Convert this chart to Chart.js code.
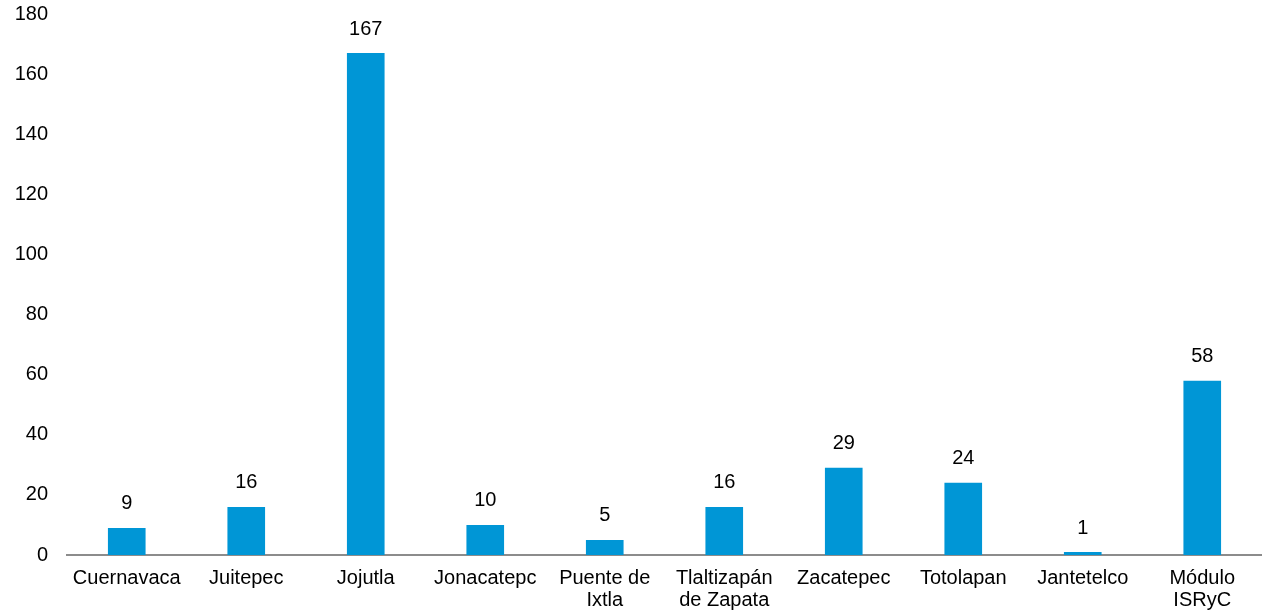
<!DOCTYPE html>
<html lang="es">
<head>
  <meta charset="UTF-8" />
  <title>Casos por municipio</title>
  <style>
    body {
      margin: 0;
      background: #ffffff;
    }
    #chartBox {
      width: 1262px;
      height: 613px;
    }
  </style>
</head>
<body>

<div id="chartBox">
  <canvas id="barChart" width="1262" height="613"></canvas>
</div>

<script src="https://cdn.jsdelivr.net/npm/chart.js"></script>
<script>
  // Data
  const categories = [
    'Cuernavaca', 'Juitepec', 'Jojutla', 'Jonacatepc', ['Puente de', 'Ixtla'],
    ['Tlaltizapán', 'de Zapata'], 'Zacatepec', 'Totolapan', 'Jantetelco', ['Módulo', 'ISRyC']
  ];
  const values = [9, 16, 167, 10, 5, 16, 29, 24, 1, 58];
  const yTicks = [0, 20, 40, 60, 80, 100, 120, 140, 160, 180];

  const fontFamily = 'Helvetica, "Liberation Sans", Arial, sans-serif';

  // Draws each value above its bar
  const valueLabels = {
    id: 'valueLabels',
    afterDatasetsDraw(chart) {
      const ctx = chart.ctx;
      const meta = chart.getDatasetMeta(0);
      ctx.save();
      ctx.font = '20px ' + fontFamily;
      ctx.fillStyle = '#000';
      ctx.textAlign = 'center';
      ctx.textBaseline = 'bottom';
      meta.data.forEach((bar, i) => {
        ctx.fillText(values[i], bar.x, bar.y - 14);
      });
      ctx.restore();
    }
  };

  const ctx = document.getElementById('barChart').getContext('2d');
  new Chart(ctx, {
    type: 'bar',
    data: {
      labels: categories,
      datasets: [{
        data: values,
        backgroundColor: '#0096d6',
        borderWidth: 0,
        barPercentage: 0.63,
        categoryPercentage: 0.5
      }]
    },
    options: {
      responsive: false,
      animation: false,
      layout: { padding: { top: 14, right: 0, left: 0, bottom: 0 } },
      plugins: {
        legend: { display: false },
        tooltip: { enabled: false }
      },
      scales: {
        x: {
          grid: { display: false, drawTicks: false },
          border: { display: true, color: '#8c8c8c', width: 2 },
          ticks: {
            color: '#000',
            padding: 12,
            maxRotation: 0,
            autoSkip: false,
            font: { family: fontFamily, size: 20, lineHeight: 1.1 }
          },
          afterFit(scale) { scale.height = 58; }
        },
        y: {
          min: 0,
          max: 180,
          afterBuildTicks(scale) { scale.ticks = yTicks.map(v => ({ value: v })); },
          grid: { display: false, drawTicks: false },
          border: { display: false },
          ticks: {
            color: '#000',
            padding: 19,
            font: { family: fontFamily, size: 20 }
          },
          afterFit(scale) {
            scale.width = 67;
            scale.paddingTop = 0;
            scale.paddingBottom = 0;
          }
        }
      }
    },
    plugins: [valueLabels]
  });
</script>

</body>
</html>
